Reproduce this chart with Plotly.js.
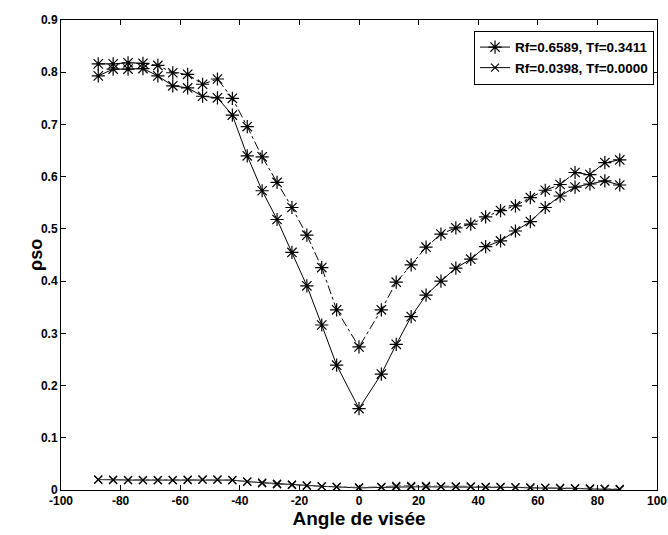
<!DOCTYPE html>
<html>
<head>
<meta charset="utf-8">
<script src="https://cdn.plot.ly/plotly-3.0.1.min.js"></script>
<style>html,body{margin:0;padding:0;background:#fff;}#chart{width:668px;height:535px;}</style>
</head>
<body>
<div id="chart"></div>
<script>
// Viewing angles (degrees)
const angles = [-87.5,-82.5,-77.5,-72.5,-67.5,-62.5,-57.5,-52.5,-47.5,-42.5,-37.5,-32.5,-27.5,-22.5,-17.5,-12.5,-7.5,0,7.5,12.5,17.5,22.5,27.5,32.5,37.5,42.5,47.5,52.5,57.5,62.5,67.5,72.5,77.5,82.5,87.5];
// Rf=0.6589, Tf=0.3411 (solid)
const starSolid = [0.793,0.806,0.806,0.807,0.793,0.774,0.770,0.754,0.751,0.718,0.640,0.573,0.518,0.455,0.391,0.316,0.239,0.156,0.222,0.279,0.332,0.373,0.400,0.425,0.442,0.466,0.477,0.496,0.514,0.541,0.563,0.580,0.586,0.592,0.584];
// companion dash-dot curve
const starDash = [0.816,0.816,0.818,0.817,0.813,0.799,0.796,0.777,0.787,0.750,0.696,0.638,0.589,0.541,0.488,0.426,0.345,0.274,0.345,0.398,0.431,0.465,0.490,0.502,0.509,0.523,0.535,0.544,0.560,0.574,0.585,0.608,0.604,0.627,0.632];
// Rf=0.0398, Tf=0.0000 (solid)
const crossSolid = [0.020,0.019,0.019,0.019,0.019,0.019,0.019,0.020,0.020,0.019,0.016,0.014,0.012,0.010,0.009,0.007,0.006,0.004,0.005,0.006,0.006,0.006,0.006,0.006,0.006,0.005,0.005,0.005,0.004,0.004,0.003,0.003,0.002,0.002,0.001];
const crossDash = [0.020,0.020,0.019,0.019,0.019,0.019,0.020,0.020,0.020,0.019,0.016,0.013,0.011,0.010,0.008,0.007,0.006,0.005,0.006,0.008,0.008,0.008,0.007,0.007,0.007,0.006,0.006,0.005,0.005,0.004,0.004,0.003,0.003,0.002,0.002];
const legendNames = ['Rf=0.6589, Tf=0.3411','Rf=0.0398, Tf=0.0000'];
const xTicks = [-100,-80,-60,-40,-20,0,20,40,60,80,100];
const yTicks = [0,0.1,0.2,0.3,0.4,0.5,0.6,0.7,0.8,0.9];
const xTitle = 'Angle de visée';
const yTitle = 'ρso';

const FAM = '"Liberation Sans", Arial, sans-serif';
const starMarker = {symbol:'asterisk-open', size:11, color:'#000', line:{color:'#000', width:1.2}};
const crossMarker = {symbol:'x-thin-open', size:8, color:'#000', line:{color:'#000', width:1.2}};

const traces = [
  {x:angles, y:starSolid, mode:'lines+markers', name:legendNames[0], line:{color:'#000', width:1}, marker:starMarker},
  {x:angles, y:crossSolid, mode:'lines+markers', name:legendNames[1], line:{color:'#000', width:1}, marker:crossMarker},
  {x:angles, y:starDash, mode:'lines+markers', showlegend:false, line:{color:'#000', width:1, dash:'dashdot'}, marker:starMarker},
  {x:angles, y:crossDash, mode:'lines+markers', showlegend:false, line:{color:'#555', width:1, dash:'dashdot'}, marker:crossMarker}
];

const fontBold = {family:FAM, size:12, color:'#000', weight:'bold'};

const layout = {
  width:668, height:535,
  margin:{l:61, r:11, t:20, b:45},
  paper_bgcolor:'#fff', plot_bgcolor:'#fff',
  showlegend:true,
  legend:{x:0.693, y:0.977, xanchor:'left', yanchor:'top', bgcolor:'#fff', bordercolor:'#000', borderwidth:1,
          itemwidth:30, font:{family:FAM, size:13.5, color:'#000', weight:'bold'}, tracegroupgap:0},
  xaxis:{range:[-100,100], tickvals:xTicks, ticktext:xTicks.map(String), ticks:'inside', ticklen:5, tickcolor:'#000',
         showline:true, linecolor:'#000', linewidth:1, mirror:'ticks', showgrid:false, zeroline:false,
         tickfont:fontBold,
         title:{text:xTitle, font:{family:FAM, size:19, color:'#000', weight:'bold'}, standoff:4}},
  yaxis:{range:[0,0.9], tickvals:yTicks, ticktext:yTicks.map(v=>String(v)), ticks:'inside', ticklen:5, tickcolor:'#000',
         showline:true, linecolor:'#000', linewidth:1, mirror:'ticks', showgrid:false, zeroline:false,
         tickfont:fontBold, title:{text:''}},
  annotations:[{text:yTitle, xref:'paper', yref:'paper', x:-0.042, y:0.5, xanchor:'center', yanchor:'middle',
                textangle:-90, showarrow:false, font:{family:FAM, size:18, color:'#000', weight:'bold'}}]
};

Plotly.newPlot('chart', traces, layout, {displayModeBar:false, staticPlot:true});
</script>
</body>
</html>
